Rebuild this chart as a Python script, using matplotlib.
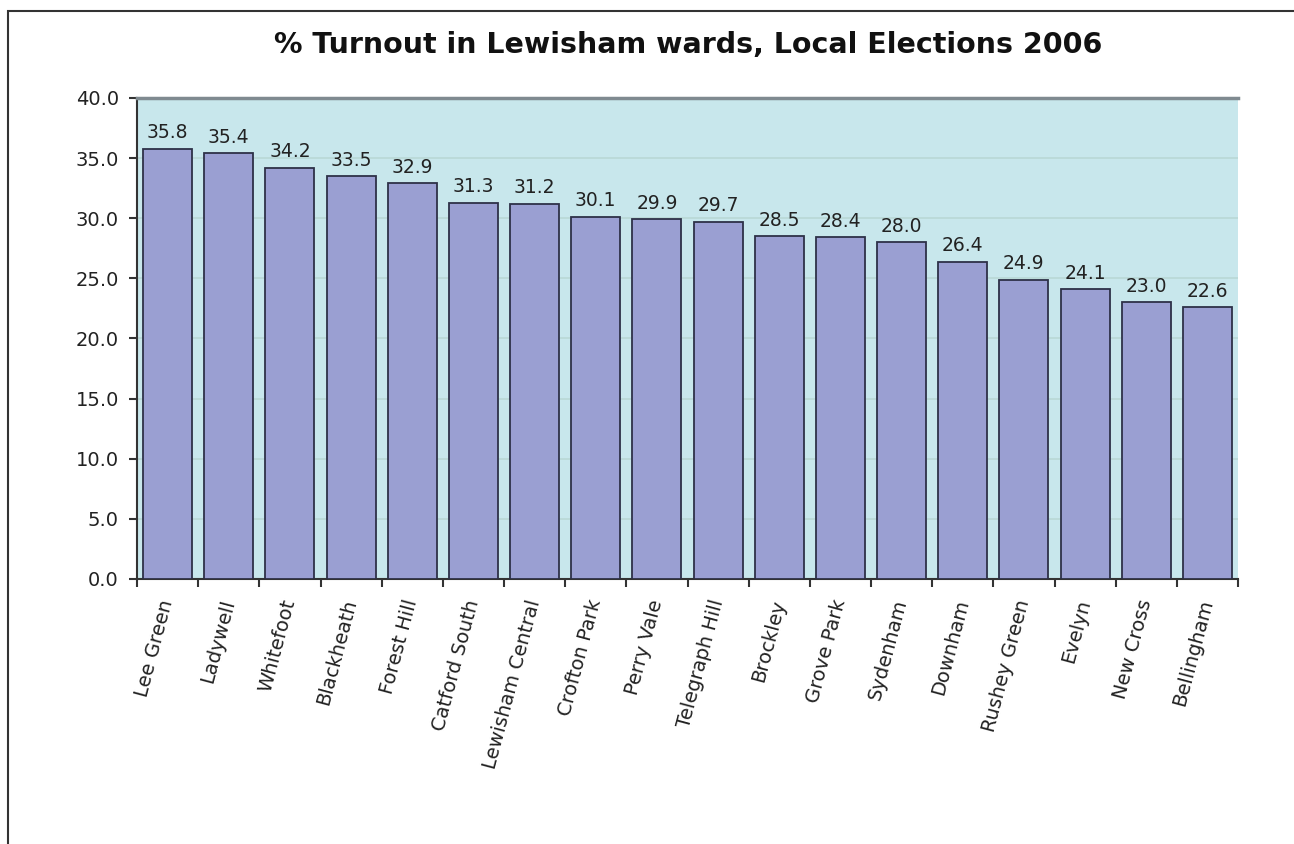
import numpy as np
import matplotlib
matplotlib.use("Agg")
import matplotlib.pyplot as plt
from matplotlib.patches import Rectangle

# ward turnout data
wards = ["Lee Green", "Ladywell", "Whitefoot", "Blackheath", "Forest Hill",
         "Catford South", "Lewisham Central", "Crofton Park", "Perry Vale",
         "Telegraph Hill", "Brockley", "Grove Park", "Sydenham", "Downham",
         "Rushey Green", "Evelyn", "New Cross", "Bellingham"]
turnout = [35.8, 35.4, 34.2, 33.5, 32.9, 31.3, 31.2, 30.1, 29.9,
           29.7, 28.5, 28.4, 28.0, 26.4, 24.9, 24.1, 23.0, 22.6]
yticks = [0, 5, 10, 15, 20, 25, 30, 35, 40]

plt.rcParams['font.family'] = ['DejaVu Sans']

fig = plt.figure(figsize=(12.94, 8.44), dpi=100)
# outer frame of the chart
fig.patches.append(Rectangle((8 / 1294, -0.1), 1.2, (844 - 11) / 844 + 0.1,
                             transform=fig.transFigure, fill=False,
                             edgecolor='#333333', linewidth=1.5))

ax = fig.add_axes([137 / 1294, 1 - 579 / 844, (1238 - 137) / 1294, (579 - 98) / 844])
ax.set_facecolor('#c8e7ec')

x = np.arange(len(wards))
bars = ax.bar(x, turnout, width=0.8, color='#9a9fd2', edgecolor='#2e3148', linewidth=1.3, zorder=3)
for xi, v in zip(x, turnout):
    ax.text(xi, v + 0.55, f"{v:.1f}", ha='center', va='bottom', fontsize=13.5, color='#222222', zorder=4)

ax.set_xlim(-0.5, len(wards) - 0.5)
ax.set_ylim(0, 40)
ax.set_yticks(yticks)
ax.set_yticklabels([f"{t:.1f}" for t in yticks], fontsize=14, color='#222222')
ax.yaxis.grid(True, color='#b9d8d6', linewidth=1.2, zorder=0)

# ticks sit between categories, labels under the bars
ax.set_xticks(np.arange(len(wards) + 1) - 0.5)
ax.set_xticklabels([])
ax.set_xticks(x, minor=True)
ax.set_xticklabels(wards, minor=True, rotation=75, ha='right', va='center',
                   rotation_mode='anchor', fontsize=14, color='#222222')
ax.tick_params(axis='x', which='minor', length=0, pad=15)
ax.tick_params(axis='x', which='major', length=6, width=1.5, color='#333333', direction='out')
ax.tick_params(axis='y', length=6, width=1.5, color='#333333', direction='out', pad=7)

ax.spines['top'].set_color('#7f8a90')
ax.spines['top'].set_linewidth(2.5)
ax.spines['right'].set_visible(False)
ax.spines['left'].set_color('#333333')
ax.spines['left'].set_linewidth(1.5)
ax.spines['bottom'].set_color('#333333')
ax.spines['bottom'].set_linewidth(1.5)

fig.text(688 / 1294, 1 - 45 / 844, "% Turnout in Lewisham wards, Local Elections 2006",
         ha='center', va='center', fontsize=20.5, fontweight='bold', color='#111111')

fig.savefig("out.png", dpi=100)
